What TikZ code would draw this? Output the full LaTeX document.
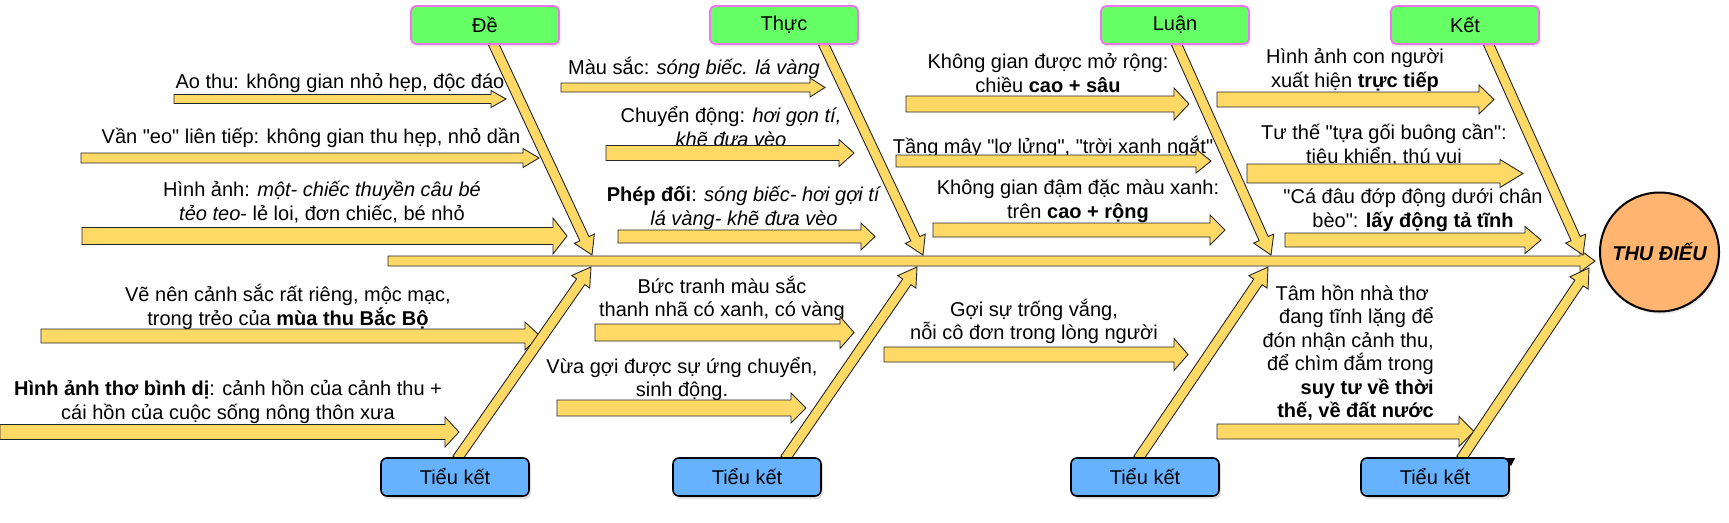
\documentclass[tikz,border=0pt]{standalone}
\usepackage{fontspec}
\setmainfont{Liberation Sans}[Ligatures=TeXOff]
\usetikzlibrary{calc,shadows}
\definecolor{ayellow}{HTML}{FFD966}
\definecolor{bgreen}{HTML}{66FF66}
\definecolor{bpink}{HTML}{F472F4}
\definecolor{bblue}{HTML}{66B2FF}
\definecolor{horange}{HTML}{FFB570}
\tikzset{
  yarrow/.style={fill=ayellow, draw=black!85, line width=0.9pt, line join=miter},
  gbox/.style={rectangle, rounded corners=5pt, fill=bgreen, draw=bpink, line width=1.8pt,
     minimum width=148pt, minimum height=38pt, inner sep=0pt,
     drop shadow={shadow xshift=1.5pt, shadow yshift=-2.5pt, opacity=0.2}},
  bbox/.style={rectangle, rounded corners=6pt, fill=bblue, draw=black, line width=1.6pt,
     minimum width=148pt, minimum height=38pt, inner sep=0pt,
     drop shadow={shadow xshift=2pt, shadow yshift=-3pt, opacity=0.25}},
  headnode/.style={circle, fill=horange, draw=black, line width=2pt, minimum size=119pt,
     inner sep=0pt, font=\fontsize{20}{24}\selectfont\bfseries\itshape,
     drop shadow={shadow xshift=1.5pt, shadow yshift=-2.5pt, opacity=0.2}},
  lbl/.style={align=center, inner sep=0pt},
}
\newcommand{\blockarrow}[5]{%
  \path ($(#2)!#5!(#1)$) coordinate (bah);
  \draw[yarrow] ($(#1)!#3!90:(#2)$) -- ($(bah)!#3!90:(#2)$) -- ($(bah)!#4!90:(#2)$) -- (#2)
    -- ($(bah)!#4!-90:(#2)$) -- ($(bah)!#3!-90:(#2)$) -- ($(#1)!#3!-90:(#2)$) -- cycle;}
\begin{document}
\begin{tikzpicture}[x=1pt,y=-1pt,font=\fontsize{20}{23.5}\selectfont]
\useasboundingbox (0,0) rectangle (1729,522);
% ---------- boxes (positions) ----------
\path (485,25) coordinate (c-de) (784,25) coordinate (c-thuc) (1175,25) coordinate (c-luan) (1465,25) coordinate (c-ket);
\path (455,477) coordinate (c-tk1) (747,477) coordinate (c-tk2) (1145,477) coordinate (c-tk3) (1435,477) coordinate (c-tk4);
% ---------- labels ----------
\node[lbl] (t1) at (340,83) {Ao thu: không gian nhỏ hẹp, độc đáo};
\node[lbl] (t2) at (311,138) {Vần "eo" liên tiếp: không gian thu hẹp, nhỏ dần};
\node[lbl] (t3) at (322,202) {Hình ảnh: \textit{một- chiếc thuyền câu bé}\\\textit{tẻo teo}- lẻ loi, đơn chiếc, bé nhỏ};
\node[lbl] (t4) at (288,307) {Vẽ nên cảnh sắc rất riêng, mộc mạc,\\trong trẻo của \textbf{mùa thu Bắc Bộ}};
\node[lbl] (t5) at (228,402) {\textbf{Hình ảnh thơ bình dị}: cảnh hồn của cảnh thu +\\cái hồn của cuộc sống nông thôn xưa};
\node[lbl] (t6) at (694,68) {Màu sắc: \textit{sóng biếc. lá vàng}};
\node[lbl] (t7) at (731,126.5) {Chuyển động: \textit{hơi gọn tí,}\\\textit{khẽ đưa vèo}};
\node[lbl] (t8) at (744,208) {\textbf{Phép đối}: \textit{sóng biếc- hơi gợi tí}\\\textit{lá vàng- khẽ đưa vèo}};
\node[lbl] (t9) at (722,298.5) {Bức tranh màu sắc\\thanh nhã có xanh, có vàng};
\node[lbl] (t10) at (682,379) {Vừa gợi được sự ứng chuyển,\\sinh động.};
\node[lbl] (t11) at (1048,73) {Không gian được mở rộng:\\chiều \textbf{cao + sâu}};
\node[lbl] (t12) at (1053,147) {Tầng mây "lơ lửng", "trời xanh ngắt"};
\node[lbl] (t13) at (1078,201) {Không gian đậm đặc màu xanh:\\trên \textbf{cao + rộng}};
\node[lbl] (t14) at (1034,321.5) {Gợi sự trống vắng,\\nỗi cô đơn trong lòng người};
\node[lbl] (t15) at (1355,70) {Hình ảnh con người\\xuất hiện \textbf{trực tiếp}};
\node[lbl] (t16) at (1384,145) {Tư thế "tựa gối buông cần":\\tiêu khiển, thú vui};
\node[lbl] (t17) at (1413,210.5) {"Cá đâu đớp động dưới chân\\bèo": \textbf{lấy động tả tĩnh}};
\node[lbl, align=right, anchor=east] (t18) at (1434,353) {Tâm hồn nhà thơ\hspace*{5pt}\\đang tĩnh lặng để\hspace*{5pt}\\đón nhận cảnh thu,\hspace*{5pt}\\để chìm đắm trong\hspace*{5pt}\\\textbf{suy tư về thời}\\\textbf{thế, về đất nước}};
% ---------- spine ----------
\coordinate (sp-s) at (388,261);
\coordinate (sp-e) at (1595,261);
\blockarrow{sp-s}{sp-e}{5pt}{11pt}{15pt}
% ---------- horizontal arrows ----------
\path (174,99) coordinate (a1s) (506,99) coordinate (a1e);
\path (81,158) coordinate (a2s) (539,158) coordinate (a2e);
\path (82,236) coordinate (a3s) (567,236) coordinate (a3e);
\path (41,336) coordinate (a4s) (540,336) coordinate (a4e);
\path (0,432) coordinate (a5s) (459,432) coordinate (a5e);
\path (561,87.5) coordinate (a6s) (825,87.5) coordinate (a6e);
\path (606,153) coordinate (a7s) (854,153) coordinate (a7e);
\path (618,236.5) coordinate (a8s) (875,236.5) coordinate (a8e);
\path (595,332.5) coordinate (a9s) (854,332.5) coordinate (a9e);
\path (557,408) coordinate (a10s) (806,408) coordinate (a10e);
\path (906,104) coordinate (a11s) (1189,104) coordinate (a11e);
\path (896,161) coordinate (a12s) (1211,161) coordinate (a12e);
\path (933,230) coordinate (a13s) (1225,230) coordinate (a13e);
\path (884,354.5) coordinate (a14s) (1188,354.5) coordinate (a14e);
\path (1217,99.5) coordinate (a15s) (1494,99.5) coordinate (a15e);
\path (1247,173.5) coordinate (a16s) (1523,173.5) coordinate (a16e);
\path (1285,240) coordinate (a17s) (1541,240) coordinate (a17e);
\path (1217,431.5) coordinate (a18s) (1474,431.5) coordinate (a18e);
\blockarrow{a1s}{a1e}{4.5pt}{8.5pt}{15pt}
\blockarrow{a2s}{a2e}{5pt}{9.5pt}{16pt}
\blockarrow{a3s}{a3e}{8.5pt}{18pt}{14pt}
\blockarrow{a4s}{a4e}{7pt}{14pt}{15pt}
\blockarrow{a5s}{a5e}{7.5pt}{15pt}{14pt}
\blockarrow{a6s}{a6e}{4.5pt}{9.5pt}{15pt}
\blockarrow{a7s}{a7e}{7.5pt}{13.5pt}{15pt}
\blockarrow{a8s}{a8e}{6.5pt}{13.5pt}{14pt}
\blockarrow{a9s}{a9e}{8.5pt}{16pt}{14pt}
\blockarrow{a10s}{a10e}{8pt}{15pt}{15pt}
\blockarrow{a11s}{a11e}{8pt}{16pt}{15pt}
\blockarrow{a12s}{a12e}{6pt}{12pt}{15pt}
\blockarrow{a13s}{a13e}{7pt}{15pt}{15pt}
\blockarrow{a14s}{a14e}{7.5pt}{16pt}{14pt}
\blockarrow{a15s}{a15e}{7.5pt}{14.5pt}{15pt}
\blockarrow{a16s}{a16e}{9.5pt}{14pt}{23pt}
\blockarrow{a17s}{a17e}{7pt}{13.5pt}{16pt}
\blockarrow{a18s}{a18e}{7.5pt}{15pt}{15pt}
% ---------- diagonal arrows ----------
\path ($(c-de)+(8,18)$) coordinate (d1s) (592,255) coordinate (d1e);
\path ($(c-thuc)+(39,18)$) coordinate (d2s) (923,255) coordinate (d2e);
\path ($(c-luan)+(1,18)$) coordinate (d3s) (1271,255) coordinate (d3e);
\path ($(c-ket)+(23,18)$) coordinate (d4s) (1583,255) coordinate (d4e);
\path ($(c-tk1)+(2,-18)$) coordinate (b1s) (591,267) coordinate (b1e);
\path ($(c-tk2)+(38,-18)$) coordinate (b2s) (917,267) coordinate (b2e);
\path ($(c-tk3)+(-7,-18)$) coordinate (b3s) (1268,267) coordinate (b3e);
\path ($(c-tk4)+(26,-18)$) coordinate (b4s) (1589,268) coordinate (b4e);
\foreach \a in {d1,d2,d3,d4,b1,b2,b3,b4}{\blockarrow{\a s}{\a e}{5pt}{11pt}{18pt}}
% ---------- nodes ----------
\node[gbox] (de) at (c-de) {Đề};
\node[gbox] (thuc) at (c-thuc) {Thực};
\node[gbox] (luan) at (c-luan) {Luận};
\node[gbox] (ket) at (c-ket) {Kết};
\node[bbox] (tk1) at (c-tk1) {Tiểu kết};
\node[bbox] (tk2) at (c-tk2) {Tiểu kết};
\node[bbox] (tk3) at (c-tk3) {Tiểu kết};
\node[bbox] (tk4) at (c-tk4) {Tiểu kết};
\node[headnode] (thudieu) at (1659.5,252) {THU ĐIẾU};
\fill[black] (1506,458) -- (1515,458) -- (1511,466) -- cycle;
\end{tikzpicture}
\end{document}
